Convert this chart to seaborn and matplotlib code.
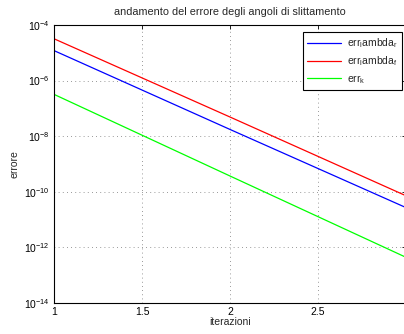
import numpy as np
import pandas as pd
import matplotlib
matplotlib.use("Agg")
import matplotlib.pyplot as plt
import seaborn as sns

iterazioni = [1, 2, 3]
err_lambda_r = [1.2e-5, 1.75e-8, 2.7e-11]
err_lambda_f = [3.2e-5, 4.9e-8, 7.2e-11]
err_k = [3.2e-7, 3.7e-10, 4.4e-13]
labels = [r'err$_\mathrm{l}$ambda$_\mathrm{r}$', r'err$_\mathrm{l}$ambda$_\mathrm{f}$', r'err$_\mathrm{k}$']
colors = ['#0000ff', '#ff0000', '#00ff00']
yticks = [1e-14, 1e-12, 1e-10, 1e-8, 1e-6, 1e-4]
xticks = [1, 1.5, 2, 2.5]

sns.set_theme(style='white')
plt.rcParams['font.family'] = ['Liberation Sans', 'DejaVu Sans']
plt.rcParams['mathtext.fontset'] = 'custom'
plt.rcParams['mathtext.rm'] = 'Liberation Sans'
plt.rcParams['mathtext.it'] = 'Liberation Sans:italic'

df = pd.DataFrame({
    'iterazioni': iterazioni * 3,
    'errore': err_lambda_r + err_lambda_f + err_k,
    'serie': [labels[0]] * 3 + [labels[1]] * 3 + [labels[2]] * 3,
})

fig = plt.figure(figsize=(4.04, 3.34), dpi=100)
ax = fig.add_axes([54 / 404, 31 / 334, 352 / 404, 278 / 334])
sns.lineplot(data=df, x='iterazioni', y='errore', hue='serie', hue_order=labels,
             palette=colors, ax=ax, linewidth=0.9, legend=True)
ax.set_yscale('log')
ax.set_xlim(1, 3)
ax.set_ylim(1e-14, 1e-4)
ax.set_yticks(yticks)
ax.set_xticks(xticks)
ax.set_xticklabels(['1', '1.5', '2', '2.5'])
ax.minorticks_off()
ax.tick_params(direction='in', top=True, right=True, length=3, width=0.6,
               labelsize=7.5, colors='black', pad=3)
ax.grid(True, which='major', linestyle=(0, (1, 4)), color='#777777', linewidth=0.6)
for s in ax.spines.values():
    s.set_color('black')
    s.set_linewidth(0.8)
ax.set_xlabel('iterazioni', fontsize=7.5, labelpad=0)
ax.set_ylabel('errore', fontsize=7.5, labelpad=3)
ax.set_title('andamento del errore degli angoli di slittamento', fontsize=7.8, pad=7)
handles, _ = ax.get_legend_handles_labels()
leg = ax.legend(handles=handles, labels=labels, loc='upper right',
                bbox_to_anchor=(402 / 404, 1 - 32 / 334), bbox_transform=fig.transFigure,
                fontsize=7.5, frameon=True, fancybox=False, edgecolor='black',
                handlelength=3.2, borderpad=0.4, labelspacing=0.45, handletextpad=0.6,
                borderaxespad=0)
leg.get_frame().set_linewidth(0.8)
leg.get_frame().set_facecolor('white')
leg.get_frame().set_alpha(1)
fig.savefig('out.png', dpi=100, facecolor='white')
